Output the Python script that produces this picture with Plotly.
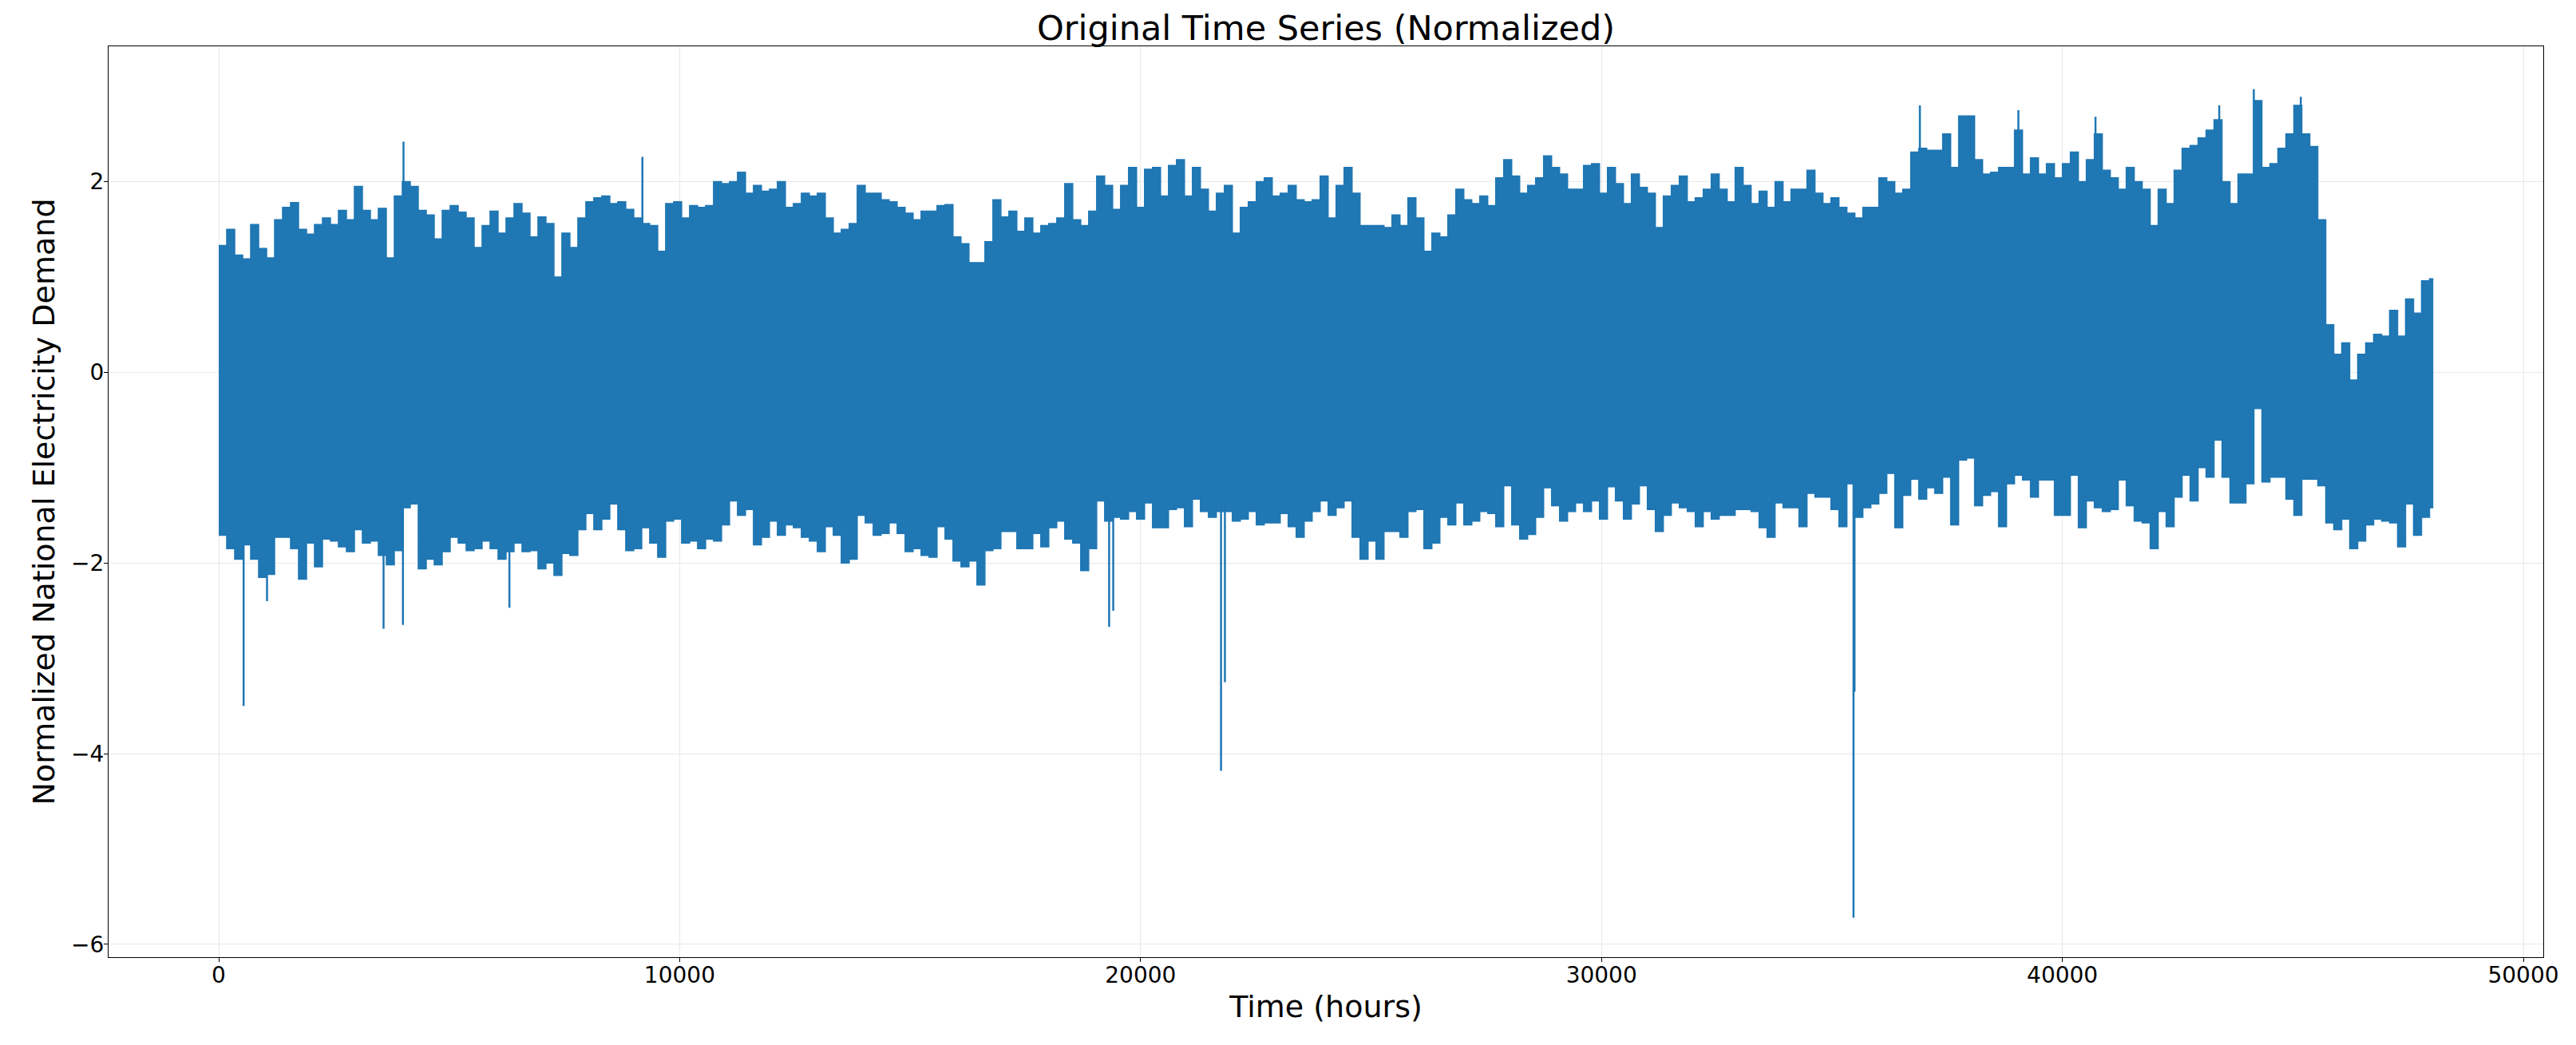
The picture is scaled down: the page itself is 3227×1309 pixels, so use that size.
import plotly.graph_objects as go

# ---------------- data ----------------
BIN_HOURS = 173.16          # width of each envelope bin (hours)
LAST_HOUR = 48047           # last time stamp of the series

# upper envelope (max of demand inside each bin)
high_a = [1.33, 1.5, 1.23, 1.19, 1.55, 1.3, 1.2, 1.6, 1.73, 1.78, 1.5, 1.45, 1.55, 1.62, 1.55, 1.7,
          1.6, 1.95, 1.7, 1.6, 1.72, 1.2, 1.85, 2.0, 1.95, 1.7, 1.65, 1.4, 1.7, 1.75, 1.68, 1.62]
high_b = [1.31, 1.54, 1.69, 1.46, 1.62, 1.77, 1.67, 1.42, 1.63, 1.56, 1.0, 1.46, 1.31, 1.62, 1.79, 1.83,
          1.85, 1.77, 1.79, 1.71, 1.62, 1.56, 1.54, 1.27, 1.77, 1.79, 1.62, 1.75, 1.73, 1.75, 2.0, 1.98]
high_c = [2.0, 2.1, 1.88, 1.96, 1.9, 1.92, 2.0, 1.73, 1.77, 1.88, 1.85, 1.88, 1.62, 1.46, 1.5, 1.56,
          1.96, 1.88, 1.88, 1.81, 1.79, 1.73, 1.67, 1.6, 1.69, 1.69, 1.75, 1.76, 1.42, 1.35, 1.15, 1.15]
high_d = [1.37, 1.81, 1.63, 1.69, 1.48, 1.62, 1.46, 1.54, 1.56, 1.62, 1.98, 1.6, 1.54, 1.69, 2.06, 1.96,
          1.71, 1.96, 2.15, 1.73, 2.13, 2.15, 1.85, 2.17, 2.23, 1.85, 2.15, 1.92, 1.69, 1.88, 1.96, 1.46]
high_e = [1.73, 1.79, 2.0, 2.04, 1.85, 1.88, 1.96, 1.81, 1.79, 1.81, 2.06, 1.62, 1.96, 2.15, 1.88, 1.54,
          1.54, 1.54, 1.52, 1.65, 1.54, 1.83, 1.62, 1.27, 1.46, 1.42, 1.65, 1.92, 1.81, 1.77, 1.85, 1.75]
high_f = [2.04, 2.23, 2.06, 1.88, 1.96, 2.04, 2.27, 2.15, 2.08, 1.92, 1.92, 2.17, 2.19, 1.88, 2.15, 1.98,
          1.77, 2.08, 1.94, 1.88, 1.52, 1.85, 1.96, 2.06, 1.79, 1.83, 1.92, 2.08, 1.92, 1.79, 2.15, 1.96]
high_g = [1.77, 1.9, 1.73, 2.0, 1.79, 1.92, 1.92, 2.12, 1.88, 1.77, 1.83, 1.73, 1.67, 1.62, 1.73, 1.73,
          2.04, 2.0, 1.88, 1.92, 2.31, 2.35, 2.33, 2.33, 2.5, 2.15, 2.69, 2.69, 2.23, 2.08, 2.1, 2.15]
high_h = [2.15, 2.54, 2.08, 2.25, 2.08, 2.19, 2.04, 2.19, 2.31, 2.0, 2.23, 2.5, 2.12, 2.04, 1.92, 2.15,
          2.0, 1.92, 1.54, 1.92, 1.77, 2.12, 2.35, 2.38, 2.46, 2.54, 2.65, 2.0, 1.77, 2.08, 2.08, 2.85]
high_i = [2.15, 2.19, 2.35, 2.5, 2.8, 2.5, 2.37, 1.6, 0.5, 0.19, 0.31, -0.08, 0.19, 0.31, 0.4, 0.38,
          0.65, 0.38, 0.77, 0.62, 0.96, 0.98]

# lower envelope (min of demand inside each bin)
low_a = [-1.71, -1.85, -1.96, -1.81, -1.96, -2.15, -2.12, -1.73, -1.73, -1.85, -2.17, -1.79, -2.04, -1.75, -1.77, -1.83,
         -1.88, -1.65, -1.79, -1.77, -1.92, -2.02, -1.87, -1.42, -1.38, -2.06, -1.96, -2.02, -1.88, -1.73, -1.79, -1.87]
low_b = [-1.85, -1.77, -1.85, -1.96, -1.88, -1.79, -1.88, -1.87, -2.06, -2.0, -2.13, -1.9, -1.92, -1.65, -1.48, -1.65,
         -1.54, -1.38, -1.65, -1.87, -1.85, -1.63, -1.79, -1.94, -1.56, -1.54, -1.79, -1.77, -1.85, -1.75, -1.77, -1.6]
low_c = [-1.35, -1.5, -1.44, -1.81, -1.73, -1.56, -1.71, -1.6, -1.63, -1.73, -1.77, -1.88, -1.62, -1.71, -2.0, -1.96,
         -1.5, -1.58, -1.71, -1.69, -1.58, -1.69, -1.88, -1.85, -1.92, -1.94, -1.62, -1.75, -1.98, -2.04, -1.98, -2.23]
low_d = [-1.87, -1.85, -1.67, -1.67, -1.85, -1.85, -1.69, -1.83, -1.63, -1.56, -1.75, -1.79, -2.08, -1.85, -1.35, -1.56,
         -1.52, -1.54, -1.46, -1.54, -1.37, -1.63, -1.63, -1.44, -1.42, -1.62, -1.33, -1.46, -1.52, -1.46, -1.46, -1.56]
low_e = [-1.54, -1.46, -1.6, -1.58, -1.58, -1.48, -1.62, -1.73, -1.56, -1.46, -1.35, -1.5, -1.42, -1.35, -1.73, -1.96,
         -1.77, -1.96, -1.67, -1.67, -1.73, -1.46, -1.44, -1.85, -1.79, -1.52, -1.6, -1.37, -1.6, -1.56, -1.46, -1.48]
low_f = [-1.62, -1.19, -1.6, -1.75, -1.7, -1.52, -1.21, -1.4, -1.56, -1.46, -1.37, -1.46, -1.35, -1.54, -1.2, -1.35,
         -1.54, -1.38, -1.19, -1.44, -1.67, -1.5, -1.37, -1.42, -1.46, -1.62, -1.46, -1.54, -1.5, -1.5, -1.44, -1.44]
low_g = [-1.46, -1.63, -1.73, -1.37, -1.42, -1.42, -1.62, -1.27, -1.31, -1.31, -1.44, -1.62, -1.17, -1.52, -1.42, -1.38,
         -1.27, -1.06, -1.63, -1.29, -1.12, -1.33, -1.21, -1.27, -1.1, -1.6, -0.92, -0.9, -1.4, -1.29, -1.25, -1.62]
low_h = [-1.17, -1.08, -1.13, -1.31, -1.13, -1.13, -1.5, -1.5, -1.08, -1.63, -1.35, -1.42, -1.46, -1.44, -1.13, -1.4,
         -1.56, -1.58, -1.85, -1.46, -1.62, -1.31, -1.08, -1.35, -1.0, -1.1, -0.71, -1.1, -1.37, -1.37, -1.17, -0.38]
low_i = [-1.15, -1.1, -1.1, -1.33, -1.5, -1.12, -1.12, -1.19, -1.58, -1.65, -1.54, -1.85, -1.77, -1.6, -1.54, -1.56,
         -1.58, -1.83, -1.38, -1.71, -1.52, -1.42]

# isolated extreme hours (single-hour spikes)
spike_hours = [540, 1048, 3576, 3997, 4009, 6306, 9192, 19318, 19407, 21746, 21830,
               35468, 35490, 36908, 39045, 40718, 43403, 44153, 45172]
spike_values = [-3.5, -2.4, -2.69, -2.65, 2.42, -2.47, 2.26, -2.67, -2.5, -4.18, -3.25,
                -5.72, -3.35, 2.8, 2.75, 2.68, 2.8, 2.97, 2.89]

x_ticks = [0, 10000, 20000, 30000, 40000, 50000]
y_ticks = [-6, -4, -2, 0, 2]

# ---------------- build ----------------
high = high_a + high_b + high_c + high_d + high_e + high_f + high_g + high_h + high_i
low = low_a + low_b + low_c + low_d + low_e + low_f + low_g + low_h + low_i
n = len(high)
t = [i * BIN_HOURS for i in range(n)] + [LAST_HOUR]
high_s = high + [high[-1]]
low_s = low + [low[-1]]

BLUE = "#1f77b4"
FONT = "DejaVu Sans"

sx, sy = [], []
for h, v in zip(spike_hours, spike_values):
    sx += [h, h, None]
    sy += [0, v, None]

fig = go.Figure()
fig.add_trace(go.Scatter(x=t, y=low_s, mode="lines", line=dict(color=BLUE, width=1.5, shape="hv"),
                         showlegend=False, hoverinfo="skip"))
fig.add_trace(go.Scatter(x=t, y=high_s, mode="lines", line=dict(color=BLUE, width=1.5, shape="hv"),
                         fill="tonexty", fillcolor=BLUE, showlegend=False))
fig.add_trace(go.Scatter(x=sx, y=sy, mode="lines", line=dict(color=BLUE, width=2.5),
                         showlegend=False, hoverinfo="skip"))

axis_common = dict(showline=True, linecolor="black", linewidth=1.3, mirror=True,
                   showgrid=True, gridcolor="#e8e8e8", gridwidth=1, zeroline=False,
                   ticks="outside", ticklen=5, tickwidth=1.2, tickcolor="black",
                   automargin=False,
                   tickfont=dict(family=FONT, size=28, color="black"))

fig.update_layout(
    width=3227, height=1309,
    margin=dict(l=136, r=41, t=58, b=110),
    paper_bgcolor="white", plot_bgcolor="white",
    title=dict(text="Original Time Series (Normalized)", x=0.5, xref="paper", xanchor="center",
               y=1 - 35 / 1309, yref="container", yanchor="middle",
               font=dict(family=FONT, size=43, color="black")),
    xaxis=dict(range=[-2390, 50433], tickvals=x_ticks, ticktext=[str(v) for v in x_ticks],
               ticklabelstandoff=-8,
               title=dict(text="Time (hours)", font=dict(family=FONT, size=38, color="black"), standoff=10),
               **axis_common),
    yaxis=dict(range=[-6.135, 3.42], tickvals=y_ticks, ticklabelstandoff=-6,
               title=dict(text="Normalized National Electricity Demand",
                          font=dict(family=FONT, size=38, color="black"), standoff=8),
               **axis_common),
)

fig.write_html("out.html", config={"displayModeBar": False},
               post_script="document.body.style.margin='0';")
